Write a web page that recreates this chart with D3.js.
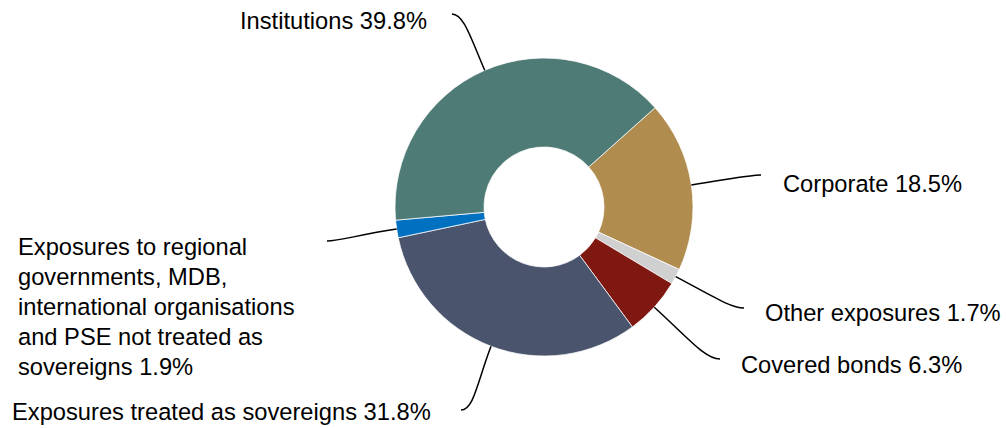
<!DOCTYPE html>
<html>
<head>
<meta charset="utf-8">
<script src="https://cdn.jsdelivr.net/npm/d3@7"></script>
<style>
  html, body { margin: 0; padding: 0; background: #fff; }
  svg { display: block; }
  text { font-family: "Liberation Sans", Arial, sans-serif; fill: #000; }
</style>
</head>
<body>
<svg id="chart" width="1006" height="428"></svg>
<script>
// slices, clockwise from the first slice angle
var categories = ["Corporate", "Other exposures", "Covered bonds",
    "Exposures treated as sovereigns",
    "Exposures to regional governments, MDB, international organisations and PSE not treated as sovereigns",
    "Institutions"];
var shares = [18.5, 1.7, 6.3, 31.8, 1.9, 39.8];
var colors = ["#b08c4e", "#d0d0d0", "#7e1811", "#4a546d", "#0070c0", "#4f7b77"];
var labelLines = [
    ["Corporate 18.5%"],
    ["Other exposures 1.7%"],
    ["Covered bonds 6.3%"],
    ["Exposures treated as sovereigns 31.8%"],
    ["Exposures to regional", "governments, MDB,", "international organisations", "and PSE not treated as", "sovereigns 1.9%"],
    ["Institutions 39.8%"]
];

// layout: text anchor (tx, ty = first baseline) and leader end (lx, ly)
var labelLayout = [
    {tx: 783, ty: 192, lx: 761, ly: 175},
    {tx: 765, ty: 321, lx: 744, ly: 308},
    {tx: 741, ty: 373, lx: 720, ly: 359},
    {tx: 12,  ty: 420, lx: 461, ly: 410},
    {tx: 18,  ty: 254.5, lx: 327, ly: 241},
    {tx: 240, ty: 29,  lx: 452, ly: 14}
];

var cx = 544, cy = 207, rOuter = 149, rInner = 60;
var startDeg = 48.2;
var fontSize = 23.7, lineH = 30.2;

var data = categories.map(function(c, i){ return {name: c, value: shares[i], i: i}; });

var pie = d3.pie()
    .sort(null)
    .value(function(d){ return d.value; })
    .startAngle(startDeg * Math.PI / 180)
    .endAngle((startDeg + 360) * Math.PI / 180);

var arcs = pie(data);

var arc = d3.arc().innerRadius(rInner).outerRadius(rOuter);
var edgeArc = d3.arc().innerRadius(rOuter).outerRadius(rOuter);

var svg = d3.select("#chart");
var g = svg.append("g").attr("transform", "translate(" + cx + "," + cy + ")");

g.selectAll("path.slice")
    .data(arcs)
    .enter()
    .append("path")
    .attr("class", "slice")
    .attr("d", arc)
    .style("fill", function(d){ return colors[d.data.i]; })
    .style("stroke", "#fff")
    .style("stroke-width", 0.75);

// curved leader lines
function leader(d){
    var p0 = edgeArc.centroid(d);
    var mid = (d.startAngle + d.endAngle) / 2;
    var ux = Math.sin(mid), uy = -Math.cos(mid);
    var L = labelLayout[d.data.i];
    var ex = L.lx - cx, ey = L.ly - cy;
    var dist = Math.sqrt((ex - p0[0]) * (ex - p0[0]) + (ey - p0[1]) * (ey - p0[1]));
    var k1 = dist * 0.55, k2 = dist * 0.18;
    var side = (p0[0] > ex) ? 1 : -1;
    var path = d3.path();
    path.moveTo(p0[0], p0[1]);
    path.bezierCurveTo(p0[0] + ux * k1, p0[1] + uy * k1, ex + side * k2, ey, ex, ey);
    return path.toString();
}

g.selectAll("path.leader")
    .data(arcs)
    .enter()
    .append("path")
    .attr("class", "leader")
    .attr("d", leader)
    .style("fill", "none")
    .style("stroke", "#000")
    .style("stroke-width", 1.5);

var labels = svg.append("g")
    .selectAll("text")
    .data(arcs)
    .enter()
    .append("text")
    .attr("x", function(d){ return labelLayout[d.data.i].tx; })
    .attr("y", function(d){ return labelLayout[d.data.i].ty; })
    .style("font-size", fontSize + "px");

labels.selectAll("tspan")
    .data(function(d){ return labelLines[d.data.i].map(function(t){ return {t: t, x: labelLayout[d.data.i].tx}; }); })
    .enter()
    .append("tspan")
    .attr("x", function(d){ return d.x; })
    .attr("dy", function(d, i){ return i == 0 ? 0 : lineH; })
    .text(function(d){ return d.t; });
</script>
</body>
</html>
